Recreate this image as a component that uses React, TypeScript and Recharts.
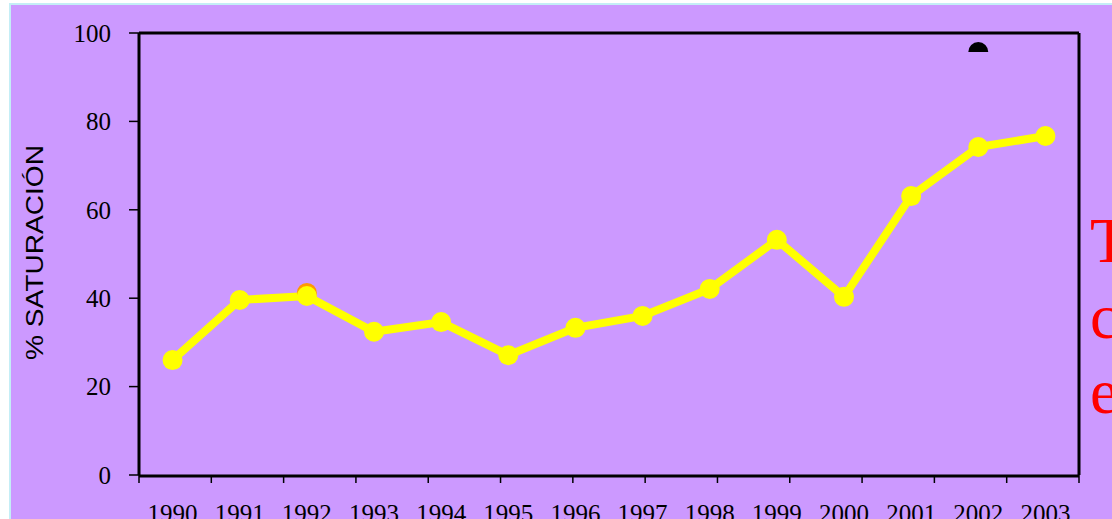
import { LineChart, Line, XAxis, YAxis, ReferenceDot } from 'recharts';

const years = ['1990', '1991', '1992', '1993', '1994', '1995', '1996', '1997', '1998', '1999', '2000', '2001', '2002', '2003'];
const saturation = [26.0, 39.6, 40.5, 32.4, 34.6, 27.1, 33.3, 36.0, 42.1, 53.2, 40.3, 63.1, 74.2, 76.7];
const orangeMarker = { year: '1992', value: 41.2 };
const blackMarker = { year: '2002', value: 95.7 };
const yTicks = [0, 20, 40, 60, 80, 100];
const boundaryTicks = [0, 1, 2, 3, 4, 5, 6, 7, 8, 9, 10, 11, 12, 13, 14];
const sideLetters = ['T', 'c', 'e'];

const data = years.map((year, i) => ({
  year,
  value: saturation[i],
  orange: year === orangeMarker.year ? orangeMarker.value : null,
}));

const serif = '"Liberation Serif", "Times New Roman", serif';
const sans = '"Liberation Sans", Arial, sans-serif';

function HalfDisc(props: any) {
  const { cx, cy } = props;
  if (cx == null || cy == null) return null;
  const r = 10;
  return <path d={`M${cx - r},${cy} A${r},${r} 0 0 1 ${cx + r},${cy} Z`} fill="#000" />;
}

export default function App() {
  return (
    <div style={{ position: 'absolute', left: 0, top: 0, width: 1112, height: 519, background: '#fff', overflow: 'hidden' }}>
      <div style={{ position: 'absolute', left: 9, top: 3, right: 0, bottom: 0, background: '#C4EEF6' }} />
      <div style={{ position: 'absolute', left: 11, top: 5, right: 0, bottom: 0, background: '#CC99FF' }} />
      <div style={{ position: 'absolute', left: 0, top: 0 }}>
        <LineChart width={1112} height={519} data={data} margin={{ top: 32, right: 32, bottom: 0, left: 0 }}>
          {/* tick marks sit on the category boundaries, so they get their own axis */}
          <XAxis
            xAxisId="bounds"
            type="number"
            domain={[0, 14]}
            ticks={boundaryTicks}
            height={1}
            axisLine={false}
            tick={{ fontSize: 0 }}
            tickFormatter={() => ''}
            tickSize={8}
            tickLine={{ stroke: '#000', strokeWidth: 1.5 }}
          />
          <XAxis
            xAxisId="year"
            dataKey="year"
            scale="band"
            height={43}
            tickLine={false}
            tickSize={0}
            tickMargin={28}
            interval={0}
            axisLine={{ stroke: '#000', strokeWidth: 3 }}
            tick={{ fill: '#000', fontSize: 25, fontFamily: serif }}
          />
          <XAxis
            xAxisId="top"
            orientation="top"
            type="number"
            domain={[0, 14]}
            height={1}
            tick={false}
            tickLine={false}
            axisLine={{ stroke: '#000', strokeWidth: 3 }}
          />
          <YAxis
            yAxisId="left"
            width={139}
            domain={[0, 100]}
            ticks={yTicks}
            tickSize={10}
            tickMargin={18}
            axisLine={{ stroke: '#000', strokeWidth: 3 }}
            tickLine={{ stroke: '#000', strokeWidth: 1.5 }}
            tick={{ fill: '#000', fontSize: 25, fontFamily: serif }}
          />
          <YAxis
            yAxisId="right"
            orientation="right"
            width={1}
            domain={[0, 100]}
            tick={false}
            tickLine={false}
            axisLine={{ stroke: '#000', strokeWidth: 3 }}
          />
          <Line
            xAxisId="year"
            yAxisId="left"
            dataKey="orange"
            stroke="none"
            dot={{ r: 10, fill: '#FF9900', stroke: 'none' }}
            activeDot={false}
            isAnimationActive={false}
          />
          <Line
            xAxisId="year"
            yAxisId="left"
            dataKey="value"
            stroke="#FFFF00"
            strokeWidth={8}
            dot={{ r: 10, fill: '#FFFF00', stroke: 'none' }}
            activeDot={false}
            isAnimationActive={false}
          />
          <ReferenceDot
            xAxisId="year"
            yAxisId="left"
            x={blackMarker.year}
            y={blackMarker.value}
            r={10}
            shape={HalfDisc}
            ifOverflow="visible"
          />
        </LineChart>
      </div>
      <svg width={1112} height={519} style={{ position: 'absolute', left: 0, top: 0, pointerEvents: 'none' }}>
        <text
          transform="translate(43,252.5) rotate(-90)"
          textAnchor="middle"
          fontFamily={sans}
          fontSize={23}
          fill="#000"
          textLength={215}
          lengthAdjust="spacingAndGlyphs"
        >
          % SATURACIÓN
        </text>
        {sideLetters.map((letter, i) => (
          <text key={letter} x={1090} y={[262, 338, 413][i]} fontFamily={serif} fontSize={64} fill="#FF0000">
            {letter}
          </text>
        ))}
      </svg>
    </div>
  );
}
